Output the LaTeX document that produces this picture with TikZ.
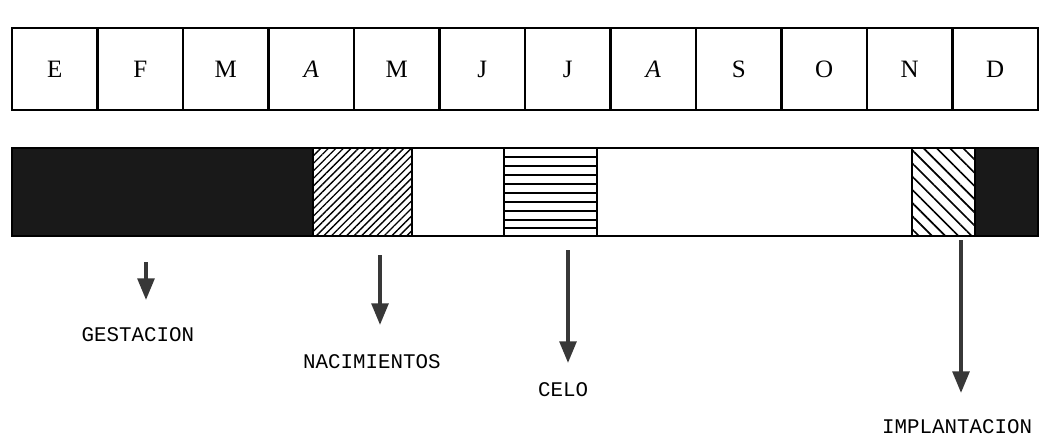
\documentclass[tikz,border=0pt]{standalone}
\usepackage{fontspec}
\setmainfont{Liberation Serif}
\newfontfamily\labelfont{Liberation Mono}
\usetikzlibrary{arrows.meta,patterns.meta,positioning}

\tikzset{
	month/.style={draw,line width=1.6pt,minimum width=51.3pt,minimum height=49.2pt,inner sep=0pt,font=\fontsize{15}{18}\selectfont},
	seg/.style={draw,line width=1.6pt},
	hline/.style={line width=0.9pt},
	arr/.style={line width=2.3pt,draw=black!78,-{Triangle[width=10pt,length=13pt]}},
	lbl/.style={inner sep=0pt,font=\labelfont\fontsize{12.5}{15}\selectfont}
}

\begin{document}
\begin{tikzpicture}[x=0.6pt,y=-0.6pt]
		\useasboundingbox (0,0) rectangle (1049,439);
		% months
		\node[month] (ene) at (54.75,69) {E};
		\node[month] (feb) at (140.25,69) {F};
		\node[month] (mar) at (225.75,69) {M};
		\node[month] (abr) at (311.25,69) {\textit{A}};
		\node[month] (may) at (396.75,69) {M};
		\node[month] (jun) at (482.25,69) {J};
		\node[month] (jul) at (567.75,69) {J};
		\node[month] (ago) at (653.25,69) {\textit{A}};
		\node[month] (sep) at (738.75,69) {S};
		\node[month] (oct) at (824.25,69) {O};
		\node[month] (nov) at (909.75,69) {N};
		\node[month] (dic) at (995.25,69) {D};
		% bar
		\path[seg,fill=black!90] (12,148) rectangle (313,236);
		\path[seg,pattern={Lines[angle=45,distance=3.2pt,line width=0.8pt]}] (313,148) rectangle (412,236);
		\path[seg] (412,148) rectangle (504,236);
		\draw[hline] (504,157) -- (597,157);
		\draw[hline] (504,166) -- (597,166);
		\draw[hline] (504,175) -- (597,175);
		\draw[hline] (504,184) -- (597,184);
		\draw[hline] (504,193) -- (597,193);
		\draw[hline] (504,202) -- (597,202);
		\draw[hline] (504,211) -- (597,211);
		\draw[hline] (504,220) -- (597,220);
		\draw[hline] (504,228) -- (597,228);
		\path[seg] (504,148) rectangle (597,236);
		\path[seg] (597,148) rectangle (912,236);
		\path[seg,pattern={Lines[angle=-45,distance=5.6pt,line width=1pt]}] (912,148) rectangle (975,236);
		\path[seg,fill=black!90] (975,148) rectangle (1038,236);
		% arrows
		\coordinate (gesTop) at (146,262);
		\coordinate (gesTip) at (146,300);
		\coordinate (nacTop) at (380,255);
		\coordinate (nacTip) at (380,325);
		\coordinate (celTop) at (568,250);
		\coordinate (celTip) at (568,363);
		\coordinate (impTop) at (961,240);
		\coordinate (impTip) at (961,393);
		\draw[arr] (gesTop) -- (gesTip);
		\draw[arr] (nacTop) -- (nacTip);
		\draw[arr] (celTop) -- (celTip);
		\draw[arr] (impTop) -- (impTip);
		\node[lbl] (ges) at (138,335) {GESTACION};
		\node[lbl] (nac) at (372,362) {NACIMIENTOS};
		\node[lbl] (cel) at (563,390) {CELO};
		\node[lbl] (imp) at (957,427) {IMPLANTACION};
\end{tikzpicture}
\end{document}
